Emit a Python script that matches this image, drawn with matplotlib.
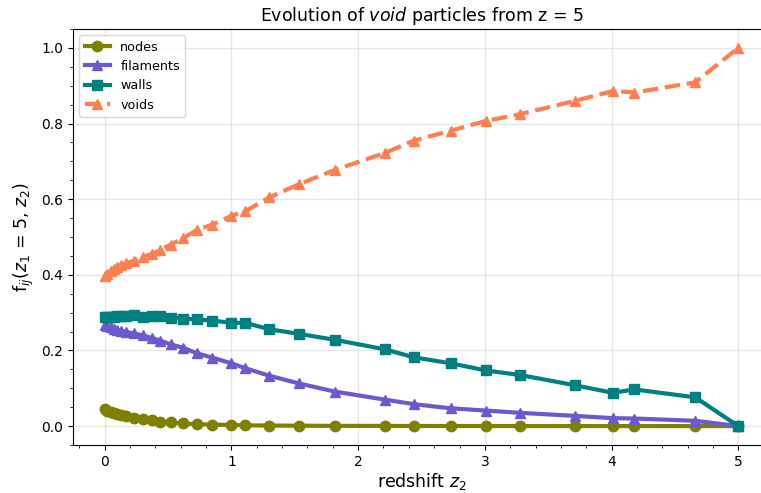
import matplotlib
matplotlib.use("Agg")
import matplotlib.pyplot as plt
from matplotlib.ticker import MultipleLocator

# Snapshot redshifts
redshift = [0.0, 0.02, 0.05, 0.07, 0.10, 0.13, 0.17, 0.23, 0.30, 0.37,
            0.44, 0.52, 0.62, 0.73, 0.85, 1.00, 1.11, 1.30, 1.53, 1.82,
            2.21, 2.44, 2.73, 3.01, 3.28, 3.71, 4.01, 4.18, 4.66, 5.00]

# Fraction of z=5 void particles found in each environment at z2
nodes = [0.045, 0.041, 0.037, 0.034, 0.031, 0.029, 0.026, 0.022, 0.018, 0.015,
         0.012, 0.010, 0.007, 0.005, 0.004, 0.003, 0.002, 0.0015, 0.001, 0.0006,
         0.0004, 0.0003, 0.0002, 0.0002, 0.0001, 0.0001, 0.0001, 0.0001, 0.0, 0.0]
filaments = [0.266, 0.264, 0.261, 0.258, 0.255, 0.251, 0.249, 0.245, 0.240, 0.233,
             0.226, 0.216, 0.207, 0.192, 0.181, 0.166, 0.153, 0.133, 0.113, 0.091,
             0.070, 0.058, 0.047, 0.041, 0.035, 0.027, 0.021, 0.020, 0.014, 0.0]
walls = [0.288, 0.288, 0.289, 0.289, 0.290, 0.290, 0.291, 0.293, 0.289, 0.290,
         0.290, 0.287, 0.284, 0.282, 0.279, 0.273, 0.273, 0.256, 0.244, 0.228,
         0.203, 0.182, 0.166, 0.147, 0.135, 0.108, 0.088, 0.097, 0.076, 0.0]
voids = [0.397, 0.403, 0.410, 0.415, 0.421, 0.426, 0.431, 0.437, 0.447, 0.455,
         0.466, 0.480, 0.497, 0.519, 0.533, 0.556, 0.568, 0.605, 0.639, 0.678,
         0.722, 0.755, 0.781, 0.807, 0.825, 0.860, 0.886, 0.882, 0.909, 1.0]

fig = plt.figure(figsize=(7.61, 4.93), dpi=100)
ax = fig.add_axes([73 / 761, 1 - 445 / 493, (770 - 73) / 761, (445 - 29) / 493])

lw = 3
ax.plot(redshift, nodes, color="olive", marker="o", markersize=7.5, lw=lw, label="nodes")
ax.plot(redshift, filaments, color="slateblue", marker="^", markersize=7.5, lw=lw, label="filaments")
ax.plot(redshift, walls, color="teal", marker="s", markersize=7.5, lw=lw, label="walls")
ax.plot(redshift, voids, color="coral", marker="^", markersize=7.5, lw=lw, ls="--", label="voids")

ax.set_xlim(-0.25, 5.25)
ax.set_ylim(-0.05, 1.05)
ax.xaxis.set_major_locator(MultipleLocator(1))
ax.xaxis.set_minor_locator(MultipleLocator(0.2))
ax.yaxis.set_major_locator(MultipleLocator(0.2))
ax.yaxis.set_minor_locator(MultipleLocator(0.05))
ax.grid(True, which="major", color="#d8d8d8", alpha=0.6, lw=1)
ax.tick_params(labelsize=10)

ax.set_title("Evolution of $\\it{void}$ particles from z = 5", fontsize=12.5)
ax.set_xlabel("redshift $z_2$", fontsize=12.5, labelpad=1.5)
ax.set_ylabel("f$_{ij}$($z_1$ = 5, $z_2$)", fontsize=12.5)
ax.legend(loc="upper left", fontsize=9.2)

fig.savefig("out.png", dpi=100)
